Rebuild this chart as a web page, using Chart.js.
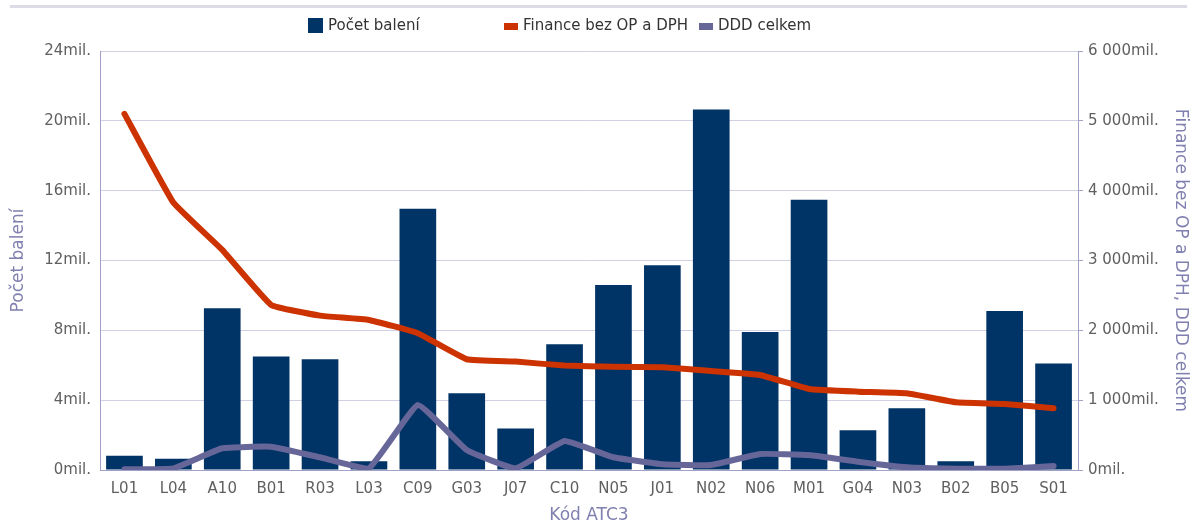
<!DOCTYPE html>
<html><head><meta charset="utf-8">
<script src="https://cdn.jsdelivr.net/npm/chart.js@4/dist/chart.umd.min.js"></script>
<style>
html,body{margin:0;padding:0;background:#fff;}
#wrap{position:relative;width:1195px;height:524px;overflow:hidden;}
#c{position:absolute;left:0;top:0;}
#strip{position:absolute;left:10px;top:5px;width:1177px;height:3px;background:#dcdce6;}
.box{position:absolute;}
.lt{position:absolute;font:15px "DejaVu Sans";color:#333;white-space:nowrap;line-height:17px;top:17px;}
</style></head>
<body>
<div id="wrap">
<canvas id="c" width="1195" height="524"></canvas>
<div id="strip"></div>
<div class="box" style="left:308px;top:18px;width:15px;height:15px;background:#003366"></div>
<div class="lt" style="left:328px">Počet balení</div>
<div class="box" style="left:504px;top:23px;width:14px;height:7px;background:#cc3300"></div>
<div class="lt" style="left:523px">Finance bez OP a DPH</div>
<div class="box" style="left:699px;top:23px;width:14px;height:7px;background:#666699"></div>
<div class="lt" style="left:718px">DDD celkem</div>
</div>
<script>
const categories = ['L01','L04','A10','B01','R03','L03','C09','G03','J07','C10','N05','J01','N02','N06','M01','G04','N03','B02','B05','S01'];
const pocetBaleni = [0.82,0.65,9.26,6.5,6.35,0.5,14.96,4.4,2.37,7.21,10.6,11.73,20.65,7.9,15.48,2.28,3.54,0.5,9.11,6.1];
const financeBezOP = [5100,3830,3152,2364,2211,2149,1958,1586,1552,1495,1480,1471,1418,1361,1160,1122,1099,970,946,884];
const dddCelkem = [10,24,311,334,182,24,931,287,24,415,182,82,72,229,215,119,39,19,19,57];
const seriesNames = ['Počet balení','Finance bez OP a DPH','DDD celkem'];
const axisTitles = {x:'Kód ATC3', y:'Počet balení', y1:'Finance bez OP a DPH, DDD celkem'};

const fmt = v => String(v).replace(/\B(?=(\d{3})+(?!\d))/g,' ') + 'mil.';
const tickFont = {family:'DejaVu Sans', size:15};
const titleFont = {family:'DejaVu Sans', size:17, lineHeight:1};
const gridCol = '#d0d0e4', axisCol = '#a0a0c8', tickCol = '#606060', titleCol = '#8080b0';

new Chart(document.getElementById('c'), {
  data: {
    labels: categories,
    datasets: [
      {type:'line', label:seriesNames[1], data:financeBezOP, yAxisID:'y1', borderColor:'#cc3300', borderWidth:6, pointRadius:0, tension:0.1, borderJoinStyle:'round', borderCapStyle:'round', order:1},
      {type:'line', label:seriesNames[2], data:dddCelkem, yAxisID:'y1', borderColor:'#666699', borderWidth:6, pointRadius:0, tension:0.1, borderJoinStyle:'round', borderCapStyle:'round', order:0},
      {type:'bar', label:seriesNames[0], data:pocetBaleni, yAxisID:'y', backgroundColor:'#003366', barPercentage:0.75, categoryPercentage:1, order:2}
    ]
  },
  options: {
    responsive:false, animation:false,
    layout:{padding:{top:51,left:0,right:0,bottom:0}},
    plugins:{legend:{display:false}, tooltip:{enabled:false}},
    scales:{
      x:{
        grid:{drawOnChartArea:false, drawTicks:false},
        border:{color:axisCol, width:1},
        ticks:{font:tickFont, color:tickCol, padding:10, maxRotation:0, autoSkip:false},
        title:{display:true, text:axisTitles.x, font:titleFont, color:titleCol, padding:{top:0,bottom:0}},
        afterFit(s){ s.height = 54; }
      },
      y:{
        position:'left', min:0, max:24,
        ticks:{stepSize:4, font:tickFont, color:tickCol, padding:9, callback:v=>fmt(v)},
        grid:{color:gridCol, drawTicks:false},
        border:{color:axisCol, width:1},
        title:{display:true, text:axisTitles.y, font:titleFont, color:titleCol, padding:{top:10,bottom:0}},
        afterFit(s){ s.width = 100; }
      },
      y1:{
        position:'right', min:0, max:6000,
        ticks:{stepSize:1000, font:tickFont, color:tickCol, padding:5, callback:v=>fmt(v)},
        grid:{drawOnChartArea:false, drawTicks:true, tickLength:5, color:axisCol},
        border:{color:axisCol, width:1},
        title:{display:true, text:axisTitles.y1, font:titleFont, color:titleCol, padding:{top:6,bottom:0}},
        afterFit(s){ s.width = 117; }
      }
    }
  }
});
</script>
</body></html>
